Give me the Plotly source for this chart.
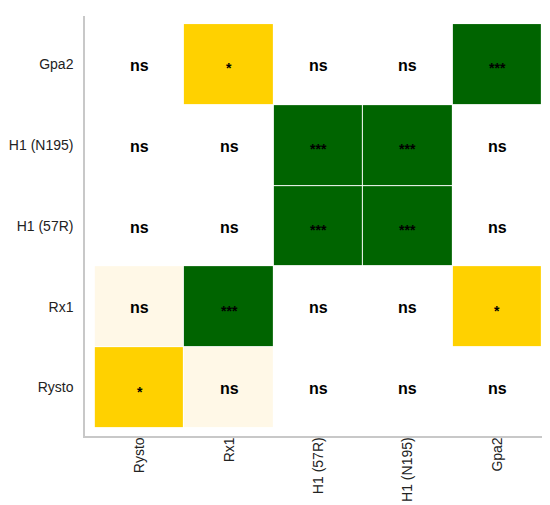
import plotly.graph_objects as go

genes = ["Rysto", "Rx1", "H1 (57R)", "H1 (N195)", "Gpa2"]

# rows listed bottom -> top (y = genes), columns left -> right (x = genes)
labels = [
    ["*",   "ns",  "ns",  "ns",  "ns"],   # Rysto
    ["ns",  "***", "ns",  "ns",  "*"],    # Rx1
    ["ns",  "ns",  "***", "***", "ns"],   # H1 (57R)
    ["ns",  "ns",  "***", "***", "ns"],   # H1 (N195)
    ["ns",  "*",   "ns",  "ns",  "***"],  # Gpa2
]
# fill level: 0 = white, 1 = cream, 2 = gold, 3 = dark green
levels = [
    [2, 1, 0, 0, 0],
    [1, 3, 0, 0, 2],
    [0, 0, 3, 3, 0],
    [0, 0, 3, 3, 0],
    [0, 2, 0, 0, 3],
]

colors = ["#FFFFFF", "#FFF8E7", "#FFD100", "#006400"]
cs = []
n = len(colors)
for i, c in enumerate(colors):
    cs.append([i / n, c])
    cs.append([(i + 1) / n, c])

xi = list(range(1, len(genes) + 1))

fig = go.Figure()
fig.add_trace(go.Heatmap(
    x=xi, y=xi, z=levels,
    zmin=-0.5, zmax=n - 0.5,
    colorscale=cs, showscale=False,
    xgap=1, ygap=1, hoverinfo="skip",
))

for r, row in enumerate(labels):
    for c, lab in enumerate(row):
        is_ns = lab == "ns"
        fig.add_annotation(
            x=xi[c], y=xi[r], text=f"<b>{lab}</b>",
            showarrow=False,
            font=dict(family="Liberation Sans, Arial", size=16 if is_ns else 14, color="#000000"),
            yshift=-1 if is_ns else -4,
        )

axis_common = dict(
    showgrid=False, zeroline=False, automargin=False,
    showline=True, linecolor="#C8C8C8", linewidth=1.5,
    tickmode="array", tickvals=xi, ticktext=genes,
    ticks="", tickfont=dict(family="Liberation Sans, Arial", size=14, color="#222222"),
)

fig.update_layout(
    width=550, height=505,
    margin=dict(l=77, r=7, t=8, b=77),
    paper_bgcolor="white", plot_bgcolor="white",
    xaxis=dict(range=[0.39, 5.6], tickangle=-90, ticklabelstandoff=-6, **axis_common),
    yaxis=dict(range=[0.4, 5.6], ticklabelstandoff=7, **axis_common),
)

fig.write_html("out.html")
